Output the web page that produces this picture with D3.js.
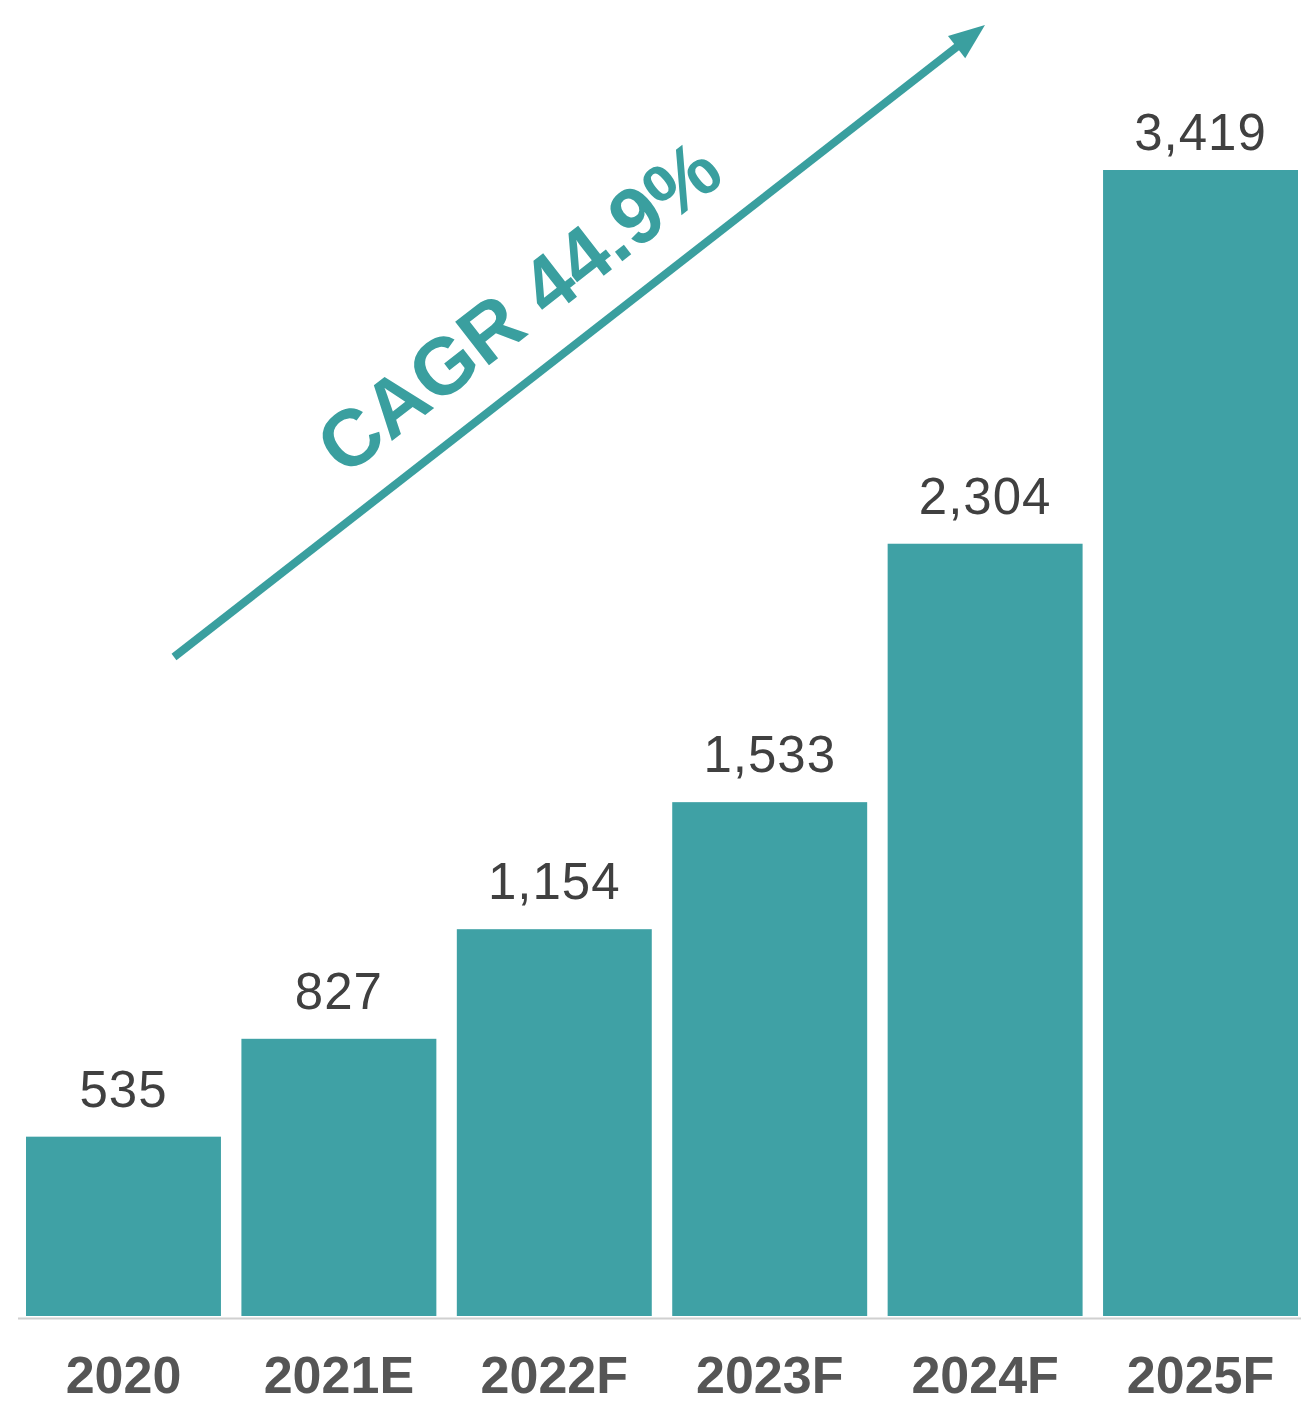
<!DOCTYPE html>
<html>
<head>
<meta charset="utf-8">
<script src="https://cdn.jsdelivr.net/npm/d3@7"></script>
<style>
  html, body { margin: 0; padding: 0; background: #ffffff; }
  svg { display: block; }
</style>
</head>
<body>
<svg id="chart" width="1301" height="1405"></svg>
<script>
// Market size by year (actual, estimate, forecast)
const years = ["2020", "2021E", "2022F", "2023F", "2024F", "2025F"];
const values = [535, 827, 1154, 1533, 2304, 3419];

const W = 1301, H = 1405;
const barColor = "#3fa1a5";
const arrowColor = "#3a9f9f";

const svg = d3.select("#chart");

const x = d3.scaleBand()
  .domain(years)
  .range([26, 1298])
  .paddingInner(0.095)
  .paddingOuter(0);

const y = d3.scaleLinear()
  .domain([0, d3.max(values)])
  .range([1316, 170]);

// bars
svg.append("g").selectAll("rect")
  .data(years)
  .join("rect")
  .attr("x", d => x(d))
  .attr("y", (d, i) => y(values[i]))
  .attr("width", x.bandwidth())
  .attr("height", (d, i) => y(0) - y(values[i]))
  .attr("fill", barColor);

// baseline
svg.append("line")
  .attr("x1", 18).attr("x2", W)
  .attr("y1", 1318.5).attr("y2", 1318.5)
  .attr("stroke", "#d0d0d0")
  .attr("stroke-width", 2);

// value labels above bars (kept clear of the top edge)
const fmt = d3.format(",");
svg.append("g").selectAll("text")
  .data(years)
  .join("text")
  .attr("x", d => x(d) + x.bandwidth() / 2)
  .attr("y", (d, i) => Math.max(y(values[i]) - 30, 150))
  .attr("text-anchor", "middle")
  .attr("font-family", "Liberation Sans, Arial, sans-serif")
  .attr("font-size", 51)
  .attr("letter-spacing", 1)
  .attr("fill", "#404040")
  .text((d, i) => fmt(values[i]));

// category axis
const xAxis = d3.axisBottom(x).tickSize(0).tickPadding(0);
const gx = svg.append("g")
  .attr("transform", "translate(0,1393)")
  .call(xAxis);
gx.select(".domain").remove();
gx.selectAll("text")
  .attr("dy", 0)
  .attr("font-family", "Liberation Sans, Arial, sans-serif")
  .attr("font-weight", "bold")
  .attr("font-size", 52)
  .attr("fill", "#555555");

// growth arrow with CAGR annotation
const cagr = Math.pow(values[values.length - 1] / values[0], 1 / (values.length - 1)) - 1;
const start = [174, 657], tip = [985, 25];
const ang = Math.atan2(tip[1] - start[1], tip[0] - start[0]);
const headLen = 36, headHalf = 14;
const base = [tip[0] - headLen * Math.cos(ang), tip[1] - headLen * Math.sin(ang)];

svg.append("line")
  .attr("x1", start[0]).attr("y1", start[1])
  .attr("x2", base[0] + 2 * Math.cos(ang)).attr("y2", base[1] + 2 * Math.sin(ang))
  .attr("stroke", arrowColor)
  .attr("stroke-width", 8);

const px = -Math.sin(ang), py = Math.cos(ang);
svg.append("path")
  .attr("d", d3.line()([
    tip,
    [base[0] + headHalf * px, base[1] + headHalf * py],
    [base[0] - headHalf * px, base[1] - headHalf * py]
  ]) + "Z")
  .attr("fill", arrowColor);

const angDeg = ang * 180 / Math.PI;
svg.append("text")
  .attr("transform", `translate(518,306) rotate(${angDeg})`)
  .attr("text-anchor", "middle")
  .attr("dy", "0.36em")
  .attr("font-family", "Liberation Sans, Arial, sans-serif")
  .attr("font-weight", "bold")
  .attr("font-size", 80)
  .attr("fill", arrowColor)
  .text(`CAGR ${(cagr * 100).toFixed(1)}%`);
</script>
</body>
</html>
